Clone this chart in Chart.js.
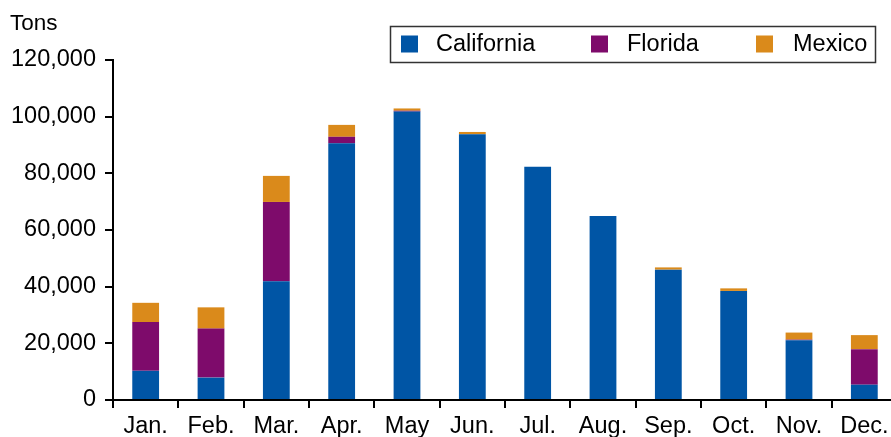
<!DOCTYPE html>
<html>
<head>
<meta charset="utf-8">
<script src="https://cdn.jsdelivr.net/npm/chart.js@4/dist/chart.umd.min.js"></script>
<style>
html,body{margin:0;padding:0;background:#fff;overflow:hidden;}
#wrap{width:900px;height:437px;}
</style>
</head>
<body>
<div id="wrap"><canvas id="c" width="900" height="437"></canvas></div>
<script>
const months = ["Jan.","Feb.","Mar.","Apr.","May","Jun.","Jul.","Aug.","Sep.","Oct.","Nov.","Dec."];
const california = [10300, 7900, 41900, 90600, 101800, 93800, 82300, 64900, 46000, 38500, 21100, 5400];
const florida    = [17200, 17300, 28000, 2300, 300, 0, 0, 0, 0, 0, 200, 12500];
const mexico     = [6800, 7500, 9200, 4200, 800, 800, 0, 0, 800, 900, 2500, 5000];
const yTicks = [0, 20000, 40000, 60000, 80000, 100000, 120000];
const unitLabel = "Tons";

const FONT = "'Liberation Sans', Arial, Helvetica, sans-serif";
const colors = {ca:"#0055A5", fl:"#7E0B6B", mx:"#DA8A1B"};

const customLegend = {
  id: 'customLegend',
  afterDraw(chart) {
    const ctx = chart.ctx;
    ctx.save();
    ctx.fillStyle = '#000';
    ctx.font = "22.5px " + FONT;
    ctx.textBaseline = 'alphabetic';
    ctx.textAlign = 'left';
    ctx.fillText(unitLabel, 10, 30);
    ctx.strokeStyle = '#333';
    ctx.lineWidth = 1.5;
    ctx.strokeRect(390.5, 26.5, 485, 36);
    const xs = [[401, 436], [591, 627], [756, 793]];
    ctx.font = "23.5px " + FONT;
    ctx.textBaseline = 'middle';
    chart.data.datasets.forEach((ds, i) => {
      ctx.fillStyle = ds.backgroundColor;
      ctx.fillRect(xs[i][0], 35.5, 17, 17);
      ctx.fillStyle = '#000';
      ctx.fillText(ds.label, xs[i][1], 45);
    });
    ctx.restore();
  }
};

new Chart(document.getElementById('c'), {
  type: 'bar',
  data: {
    labels: months,
    datasets: [
      {label: "California", data: california, backgroundColor: colors.ca},
      {label: "Florida", data: florida, backgroundColor: colors.fl},
      {label: "Mexico", data: mexico, backgroundColor: colors.mx}
    ]
  },
  options: {
    responsive: false,
    animation: false,
    layout: {padding: {top: 60, right: 3, left: 0, bottom: 0}},
    datasets: {bar: {barPercentage: 0.41, categoryPercentage: 1, borderWidth: 0}},
    plugins: {legend: {display: false}, tooltip: {enabled: false}, title: {display: false}},
    scales: {
      x: {
        stacked: true,
        afterFit(scale) { scale.height = 37; },
        grid: {drawOnChartArea: false, drawTicks: true, tickLength: 8, color: '#000', lineWidth: 2, offset: true},
        border: {display: true, color: '#000', width: 2},
        ticks: {color: '#000', font: {family: FONT, size: 23.5, lineHeight: 1}, padding: 7, maxRotation: 0, autoSkip: false}
      },
      y: {
        stacked: true,
        min: 0, max: 120000,
        afterBuildTicks(scale) { scale.ticks = yTicks.map(v => ({value: v})); },
        afterFit(scale) { scale.width = 113; },
        grid: {drawOnChartArea: false, drawTicks: true, tickLength: 8, color: '#000', lineWidth: 2},
        border: {display: true, color: '#000', width: 2},
        ticks: {
          color: '#000', font: {family: FONT, size: 23.5}, padding: 9,
          callback: v => v.toLocaleString('en-US')
        }
      }
    }
  },
  plugins: [customLegend]
});
</script>
</body>
</html>
